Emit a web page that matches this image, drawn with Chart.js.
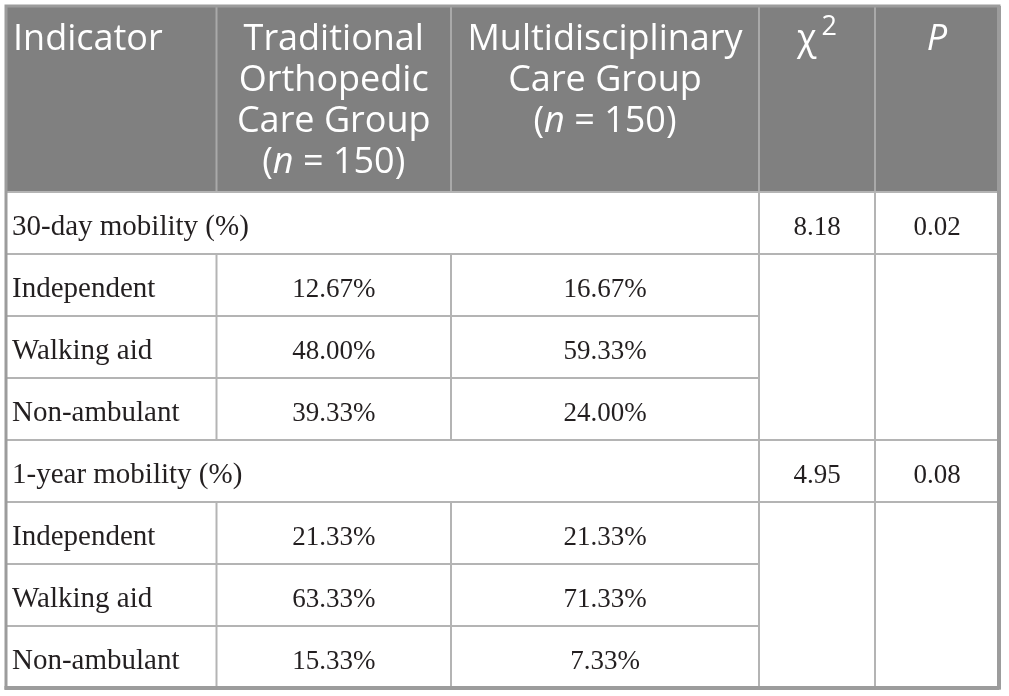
<!DOCTYPE html>
<html>
<head>
<meta charset="utf-8">
<script src="https://cdn.jsdelivr.net/npm/chart.js@4.4.1/dist/chart.umd.min.js"></script>
<style>
  html, body { margin: 0; padding: 0; background: #ffffff; }
  canvas { display: block; }
</style>
</head>
<body>
<canvas id="table-chart" width="1009" height="696"></canvas>
<script>
// ---- table data ----
// header lines: *x* = italic, ^x = superscript
const headerIndicator = ['Indicator'];
const headerTraditional = ['Traditional', 'Orthopedic', 'Care Group', '(*n* = 150)'];
const headerMulti = ['Multidisciplinary', 'Care Group', '(*n* = 150)'];
const headerChi = ['χ^2'];
const headerP = ['*P*'];

const groupLabels = ['30-day mobility (%)', '1-year mobility (%)'];
const levelLabels = ['Independent', 'Walking aid', 'Non-ambulant'];

const traditional30 = [12.67, 48.00, 39.33];
const multi30 = [16.67, 59.33, 24.00];
const traditional1y = [21.33, 63.33, 15.33];
const multi1y = [21.33, 71.33, 7.33];

const chiValues = [8.18, 4.95];
const pValues = [0.02, 0.08];

// ---- layout (scale units) ----
const COL_EDGES = [0, 210.5, 445, 753, 869, 993];
const HEADER_ROWS = 3;
const TOTAL_ROWS = 11;

const SANS = '"Open Sans", "Noto Sans", sans-serif';
const SERIF = '"Liberation Serif", "DejaVu Serif", serif';
const HEADER_BG = '#808080';
const HEADER_LINE = '#a9a9a9';
const GRID = '#b4b4b4';
const BORDER = '#9c9c9c';
const TEXT = '#231f20';
const HEAD_SIZE = 36;

function buildBodyRows() {
    const rows = [];
    const sets = [[traditional30, multi30], [traditional1y, multi1y]];
    groupLabels.forEach((g, gi) => {
        rows.push({ type: 'group', label: g, chi: chiValues[gi], p: pValues[gi] });
        levelLabels.forEach((lv, li) => {
            rows.push({ type: 'level', label: lv, a: sets[gi][0][li], b: sets[gi][1][li], first: li === 0 });
        });
    });
    return rows;
}

// draws a line of text with *italic* and ^sup markup
function richText(ctx, str, x, y, size, align) {
    const parts = [];
    const re = /(\*[^*]+\*|\^\S)/g;
    let last = 0, m;
    while ((m = re.exec(str)) !== null) {
        if (m.index > last) parts.push({ t: str.slice(last, m.index), s: 'n' });
        if (m[0][0] === '*') parts.push({ t: m[0].slice(1, -1), s: 'i' });
        else parts.push({ t: m[0].slice(1), s: 'sup' });
        last = m.index + m[0].length;
    }
    if (last < str.length) parts.push({ t: str.slice(last), s: 'n' });

    const fontFor = p => p.s === 'i' ? `italic ${size}px ${SANS}`
        : p.s === 'sup' ? `${Math.round(size * 0.75)}px ${SANS}` : `${size}px ${SANS}`;
    let total = 0;
    parts.forEach(p => { ctx.font = fontFor(p); p.w = ctx.measureText(p.t).width; if (p.s === 'sup') p.w += 5; total += p.w; });
    let cx = align === 'left' ? x : x - total / 2;
    ctx.textAlign = 'left';
    parts.forEach(p => {
        ctx.font = fontFor(p);
        const dy = p.s === 'sup' ? -size * 0.42 : 0;
        ctx.fillText(p.t, cx + (p.s === 'sup' ? 5 : 0), y + dy);
        cx += p.w;
    });
}

const tablePlugin = {
    id: 'tablePlugin',
    afterDraw(chart) {
        const ctx = chart.ctx;
        const xs = chart.scales.x, ys = chart.scales.y;
        const px = v => xs.getPixelForValue(v);
        const py = v => ys.getPixelForValue(v);
        const rows = buildBodyRows();

        ctx.save();
        // header background
        ctx.fillStyle = HEADER_BG;
        ctx.fillRect(px(0), py(0), px(COL_EDGES[5]) - px(0), py(HEADER_ROWS) - py(0));

        function line(x1, y1, x2, y2, color, w) {
            ctx.strokeStyle = color;
            ctx.lineWidth = w;
            ctx.beginPath();
            ctx.moveTo(x1, y1);
            ctx.lineTo(x2, y2);
            ctx.stroke();
        }

        // header column separators
        for (let c = 1; c < 5; c++) line(px(COL_EDGES[c]), py(0), px(COL_EDGES[c]), py(HEADER_ROWS), HEADER_LINE, 2);

        // body grid
        rows.forEach((row, i) => {
            const r = HEADER_ROWS + i;
            const top = py(r), bot = py(r + 1);
            const spanEnd = (row.type === 'level' && !row.first) ? COL_EDGES[3] : COL_EDGES[5];
            line(px(0), top, px(spanEnd), top, GRID, 2);
            if (row.type === 'level') {
                line(px(COL_EDGES[1]), top, px(COL_EDGES[1]), bot, GRID, 2);
                line(px(COL_EDGES[2]), top, px(COL_EDGES[2]), bot, GRID, 2);
            }
            line(px(COL_EDGES[3]), top, px(COL_EDGES[3]), bot, GRID, 2);
            line(px(COL_EDGES[4]), top, px(COL_EDGES[4]), bot, GRID, 2);
        });

        // outer border
        ctx.strokeStyle = BORDER;
        ctx.lineWidth = 3;
        ctx.strokeRect(px(0), py(0), px(COL_EDGES[5]) - px(0), py(TOTAL_ROWS) - py(0));
        line(px(COL_EDGES[5]), py(0), px(COL_EDGES[5]), py(TOTAL_ROWS) + 1.5, BORDER, 4);
        line(px(0) - 1.5, py(TOTAL_ROWS), px(COL_EDGES[5]), py(TOTAL_ROWS), BORDER, 4);

        // header text
        ctx.fillStyle = '#ffffff';
        ctx.textBaseline = 'alphabetic';
        const headers = [headerIndicator, headerTraditional, headerMulti, headerChi, headerP];
        const lineGap = (py(1) - py(0)) * 0.66;
        headers.forEach((lines, c) => {
            const left = px(COL_EDGES[c]), right = px(COL_EDGES[c + 1]);
            lines.forEach((t, li) => {
                const y = py(0) + 44 + li * lineGap;
                if (c === 0) richText(ctx, t, left + 7, y, HEAD_SIZE, 'left');
                else richText(ctx, t, (left + right) / 2, y, HEAD_SIZE, 'center');
            });
        });

        // body text
        ctx.fillStyle = TEXT;
        const centre = c => (px(COL_EDGES[c]) + px(COL_EDGES[c + 1])) / 2;
        rows.forEach((row, i) => {
            const r = HEADER_ROWS + i;
            const y = (py(r) + py(r + 1)) / 2 + 12;
            ctx.font = `29px ${SERIF}`;
            ctx.textAlign = 'left';
            ctx.fillText(row.label, px(0) + 6, y);
            ctx.font = `27px ${SERIF}`;
            ctx.textAlign = 'center';
            if (row.type === 'group') {
                ctx.fillText(row.chi.toFixed(2), centre(3), y);
                ctx.fillText(row.p.toFixed(2), centre(4), y);
            } else {
                ctx.fillText(row.a.toFixed(2) + '%', centre(1), y);
                ctx.fillText(row.b.toFixed(2) + '%', centre(2), y);
            }
        });
        ctx.restore();
    }
};

new Chart(document.getElementById('table-chart'), {
    type: 'scatter',
    data: { datasets: [{ data: [], pointRadius: 0 }] },
    options: {
        responsive: false,
        animation: false,
        devicePixelRatio: 1,
        layout: { padding: { left: 6, top: 6, right: 10, bottom: 8 } },
        plugins: { legend: { display: false }, tooltip: { enabled: false } },
        scales: {
            x: { type: 'linear', min: 0, max: COL_EDGES[5], display: false },
            y: { type: 'linear', min: 0, max: TOTAL_ROWS, reverse: true, display: false }
        }
    },
    plugins: [tablePlugin]
});
</script>
</body>
</html>
